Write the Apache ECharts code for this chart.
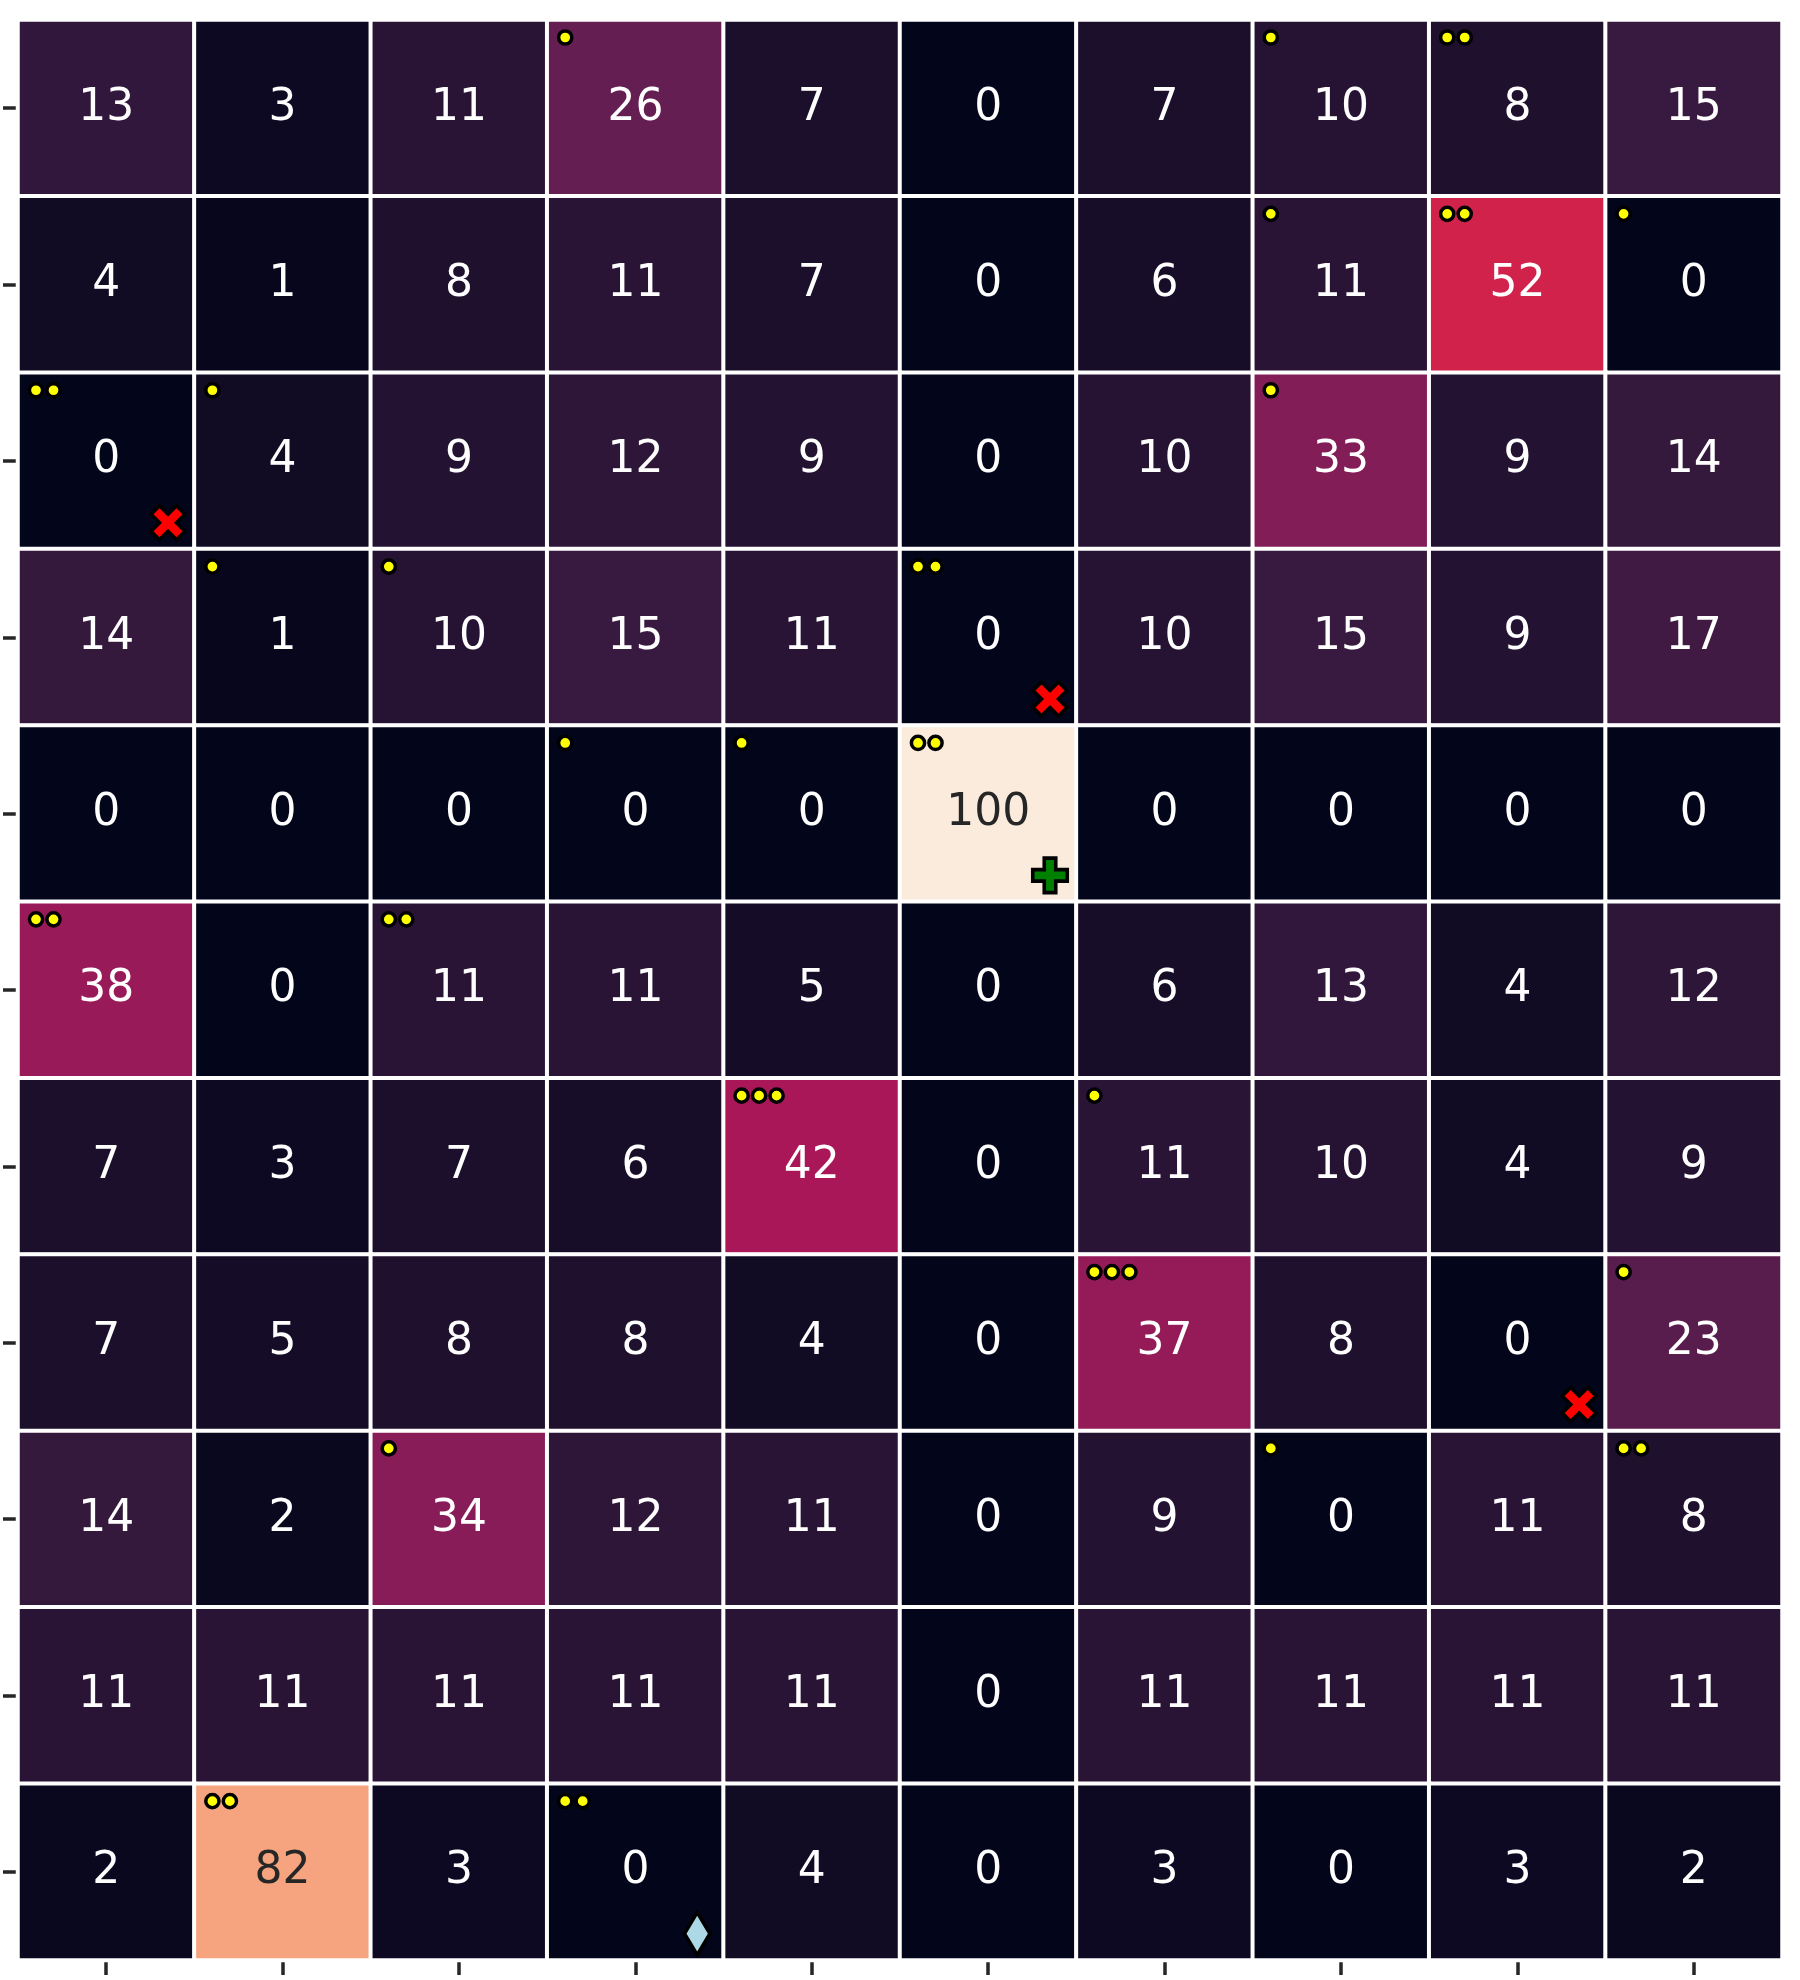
<!DOCTYPE html>
<html><head><meta charset="utf-8">
<script src="https://cdn.jsdelivr.net/npm/echarts@6/dist/echarts.min.js"></script>
<style>html,body{margin:0;padding:0;background:#fff}#chart{width:1800px;height:1980px}</style>
</head><body><div id="chart"></div>
<script>
// ---- data ----
const xCategories = ['c0','c1','c2','c3','c4','c5','c6','c7','c8','c9'];
const yCategories = ['r0','r1','r2','r3','r4','r5','r6','r7','r8','r9','r10'];
const cellValues = [
  [13, 3, 11, 26, 7, 0, 7, 10, 8, 15],
  [4, 1, 8, 11, 7, 0, 6, 11, 52, 0],
  [0, 4, 9, 12, 9, 0, 10, 33, 9, 14],
  [14, 1, 10, 15, 11, 0, 10, 15, 9, 17],
  [0, 0, 0, 0, 0, 100, 0, 0, 0, 0],
  [38, 0, 11, 11, 5, 0, 6, 13, 4, 12],
  [7, 3, 7, 6, 42, 0, 11, 10, 4, 9],
  [7, 5, 8, 8, 4, 0, 37, 8, 0, 23],
  [14, 2, 34, 12, 11, 0, 9, 0, 11, 8],
  [11, 11, 11, 11, 11, 0, 11, 11, 11, 11],
  [2, 82, 3, 0, 4, 0, 3, 0, 3, 2]
];
// [column, row, number of dots]
const dotCells = [
  [3,0,1],[7,0,1],[8,0,2],
  [7,1,1],[8,1,2],[9,1,1],
  [0,2,2],[1,2,1],[7,2,1],
  [1,3,1],[2,3,1],[5,3,2],
  [3,4,1],[4,4,1],[5,4,2],
  [0,5,2],[2,5,2],
  [4,6,3],[6,6,1],
  [6,7,3],[9,7,1],
  [2,8,1],[7,8,1],[9,8,2],
  [1,10,2],[3,10,2]
];
const crossCells = [[0,2],[5,3],[8,7]];
const plusCells = [[5,4]];
const diamondCells = [[3,10]];

// rocket colormap stops (evenly spaced over 0..100)
const rocketStops = ['#03051a','#1c0f2c','#35193e','#521c4a','#701f57','#8f1b58','#ad1759','#cb1b4f',
                     '#e13342','#ea554a','#f37651','#f59570','#f6b48f','#f8d0b6','#faebdd'];

// ---- build ----
const heatData = [];
cellValues.forEach((row, r) => row.forEach((v, c) => {
  heatData.push({ value: [c, r, v], label: { color: v >= 70 ? '#262626' : '#ffffff' } });
}));

const X_PTS = [[0.25,0],[0.5,0.25],[0.75,0],[1,0.25],[0.75,0.5],[1,0.75],[0.75,1],[0.5,0.75],[0.25,1],[0,0.75],[0.25,0.5],[0,0.25]].map(p => [p[0]-0.5, p[1]-0.5]);
const P_PTS = [[-1,-3],[1,-3],[1,-1],[3,-1],[3,1],[1,1],[1,3],[-1,3],[-1,1],[-3,1],[-3,-1],[-1,-1]].map(p => [p[0]/6, p[1]/6]);
const D_PTS = [[0,-0.7071],[0.4243,0],[0,0.7071],[-0.4243,0]];

function markerSeries(cells, pts, scale, fill) {
  return {
    type: 'custom',
    coordinateSystem: 'cartesian2d',
    z: 5,
    silent: true,
    data: cells,
    renderItem: (params, api) => {
      const c = api.coord([api.value(0), api.value(1)]);
      const s = api.size([1, 1]);
      const cx = c[0] + s[0] / 2 - 26.4;
      const cy = c[1] + s[1] / 2 - 26.4;
      return {
        type: 'polygon',
        shape: { points: pts.map(p => [cx + p[0] * scale, cy + p[1] * scale]) },
        style: { fill: fill, stroke: '#000000', lineWidth: 3.6, lineJoin: 'miter' }
      };
    }
  };
}

const chart = echarts.init(document.getElementById('chart'), null, { renderer: 'canvas' });
chart.setOption({
  animation: false,
  backgroundColor: '#ffffff',
  grid: { left: 18, top: 20, width: 1764, height: 1940 },
  xAxis: {
    type: 'category', data: xCategories, position: 'bottom',
    axisLine: { show: false },
    axisTick: { show: true, alignWithLabel: true, interval: 0, length: 15, lineStyle: { color: '#262626', width: 3.5 } },
    axisLabel: { show: false },
    splitLine: { show: false }
  },
  yAxis: {
    type: 'category', data: yCategories, inverse: true,
    axisLine: { show: false },
    axisTick: { show: true, alignWithLabel: true, interval: 0, length: 15, lineStyle: { color: '#262626', width: 3.5 } },
    axisLabel: { show: false },
    splitLine: { show: false }
  },
  visualMap: {
    show: false, type: 'continuous', min: 0, max: 100, dimension: 2, seriesIndex: 0,
    inRange: { color: rocketStops }
  },
  series: [
    {
      type: 'heatmap',
      data: heatData,
      itemStyle: { borderColor: '#ffffff', borderWidth: 4 },
      label: { show: true, formatter: p => String(p.value[2]), fontFamily: 'DejaVu Sans', fontSize: 44, offset: [0, 0] },
      emphasis: { disabled: true }
    },
    {
      type: 'custom',
      coordinateSystem: 'cartesian2d',
      z: 5,
      silent: true,
      data: dotCells,
      renderItem: (params, api) => {
        const c = api.coord([api.value(0), api.value(1)]);
        const s = api.size([1, 1]);
        const n = api.value(2);
        const children = [];
        for (let k = 0; k < n; k++) {
          children.push({
            type: 'circle',
            shape: { cx: c[0] - s[0] / 2 + 18 + k * 17.5, cy: c[1] - s[1] / 2 + 17.5, r: 6.6 },
            style: { fill: '#ffff00', stroke: '#000000', lineWidth: 3.5 }
          });
        }
        return { type: 'group', children: children };
      }
    },
    markerSeries(crossCells, X_PTS, 34, '#ff0000'),
    markerSeries(plusCells, P_PTS, 34.5, '#008000'),
    markerSeries(diamondCells, D_PTS, 30, '#add8e6')
  ]
});
</script>
</body></html>
